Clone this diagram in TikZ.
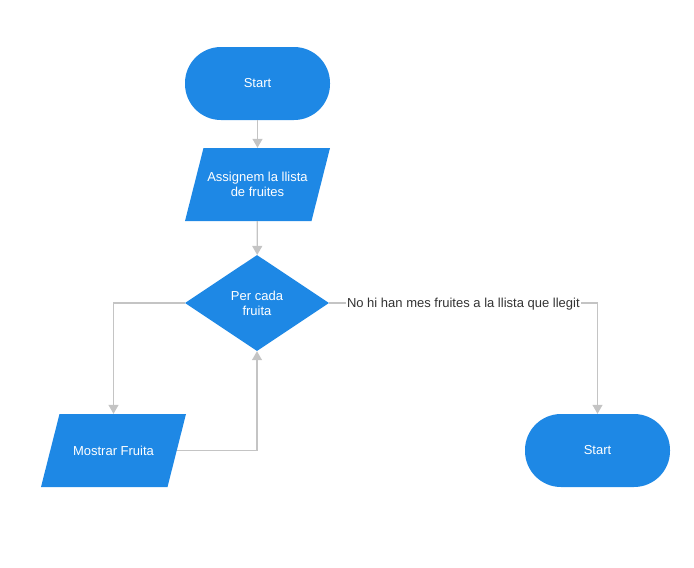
\documentclass[tikz,border=0pt]{standalone}
\usepackage{fontspec}
\setmainfont{Liberation Sans}
\usetikzlibrary{shapes.geometric,arrows.meta}
\definecolor{fcblue}{HTML}{1E88E5}
\definecolor{fcline}{HTML}{C4C4C4}
\definecolor{fctext}{HTML}{333333}
\tikzset{
  x=1pt, y=-1pt,
  every node/.style={font=\fontsize{13}{15}\selectfont},
  terminal/.style={rectangle, rounded corners=36pt, fill=fcblue, text=white,
    minimum width=145pt, minimum height=73pt, inner sep=0pt, align=center},
  iobox/.style={rectangle, text=white,
    minimum width=145pt, minimum height=73pt, inner sep=0pt, align=center,
    path picture={\fill[fcblue]
      ([xshift=18.5pt]path picture bounding box.north west) --
      (path picture bounding box.north east) --
      ([xshift=-18.5pt]path picture bounding box.south east) --
      (path picture bounding box.south west) -- cycle;}},
  decision/.style={diamond, fill=fcblue, text=white, minimum width=144pt,
    minimum height=96pt, inner sep=0pt, align=center},
  conn/.style={draw=fcline, line width=1.2pt, -{Triangle[width=10pt,length=9pt]}},
  lbl/.style={fill=white, text=fctext, inner sep=1pt, yshift=-1.5pt}
}
\begin{document}
\begin{tikzpicture}
\useasboundingbox (0,0) rectangle (694,568);
\node[terminal] (start) at (257.5,83.5) {Start};
\node[iobox] (assign) at (257.5,184.5) {Assignem la llista\\de fruites};
\node[decision] (loop) at (257,303) {Per cada\\fruita};
\node[iobox] (show) at (113.5,450.5) {Mostrar Fruita};
\node[terminal] (stop) at (597.5,450.5) {Start};
\draw[conn] (start) -- (assign);
\draw[conn] (assign) -- (loop);
\draw[conn] (loop.west) -| (show.north);
\draw[conn] ([xshift=-9.5pt]show.east) -| (loop.south);
\draw[conn] (loop.east) -| node[lbl, pos=0.25] {No hi han mes fruites a la llista que llegit} (stop.north);
\end{tikzpicture}
\end{document}
